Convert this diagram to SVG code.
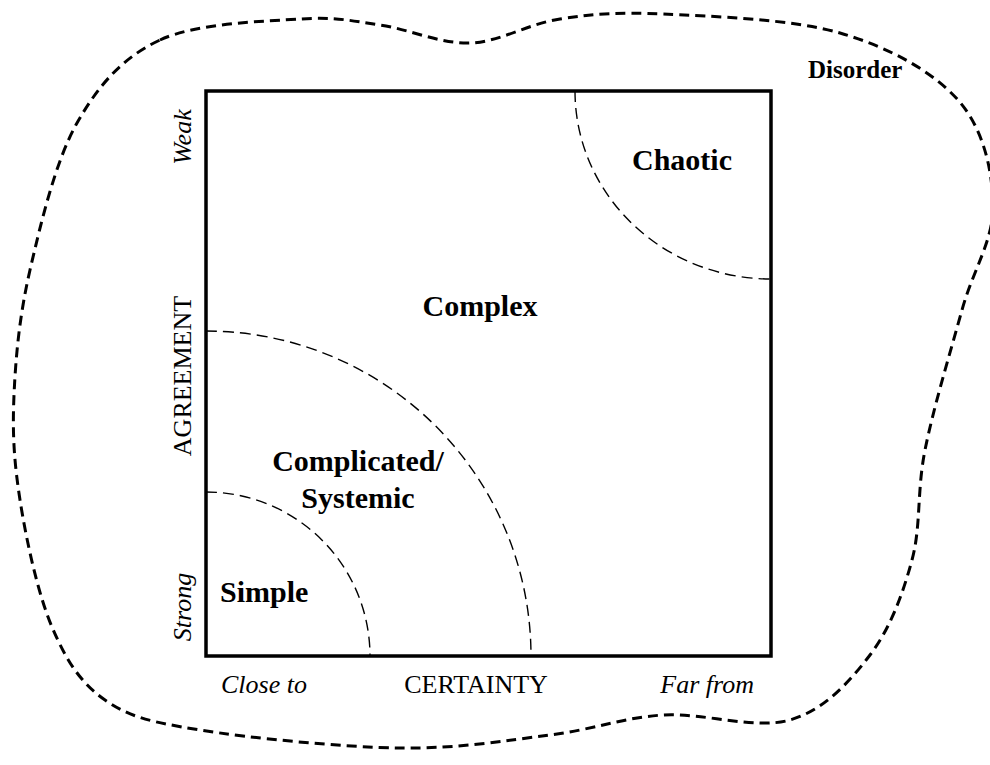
<svg xmlns="http://www.w3.org/2000/svg" width="990" height="765" viewBox="0 0 990 765">
<style>
.blob{fill:none;stroke:#000;stroke-width:3;stroke-dasharray:10 6}
.frame{fill:none;stroke:#000;stroke-width:3.5}
.arc{fill:none;stroke:#000;stroke-width:1.4;stroke-dasharray:11 6}
.lbl{font-family:"Liberation Serif","Times New Roman",serif;font-weight:bold;font-size:30px;fill:#000}
.ax{font-family:"Liberation Serif","Times New Roman",serif;font-size:26px;fill:#000}
.it{font-style:italic}
</style>
<rect width="990" height="765" fill="#fff"/>
<g id="disorder">
<path class="blob" d="M160,40 C197.2,22.7 263.3,21.5 300,19 C336.7,16.5 351.7,21 380,25 C408.3,29 440,44 470,43 C500,42 527.8,23.8 560,19 C592.2,14.2 616.3,11.7 663,14 C709.7,16.3 790.8,18.7 840,33 C889.2,47.3 932.5,71.3 958,100 C983.5,128.7 992.3,170 993,205 C993.7,240 973.3,269.2 962,310 C950.7,350.8 933.3,408.3 925,450 C916.7,491.7 921.2,525.8 912,560 C902.8,594.2 890.3,628.3 870,655 C849.7,681.7 824.5,710 790,720 C755.5,730 703,712.5 663,715 C623,717.5 593.8,729.5 550,735 C506.2,740.5 458.3,748.8 400,748 C341.7,747.2 249.2,738 200,730 C150.8,722 129.7,717.2 105,700 C80.3,682.8 66.2,660.3 52,627 C37.8,593.7 26,538.7 20,500 C14,461.3 12.3,433.3 14,395 C15.7,356.7 19.5,315.3 30,270 C40.5,224.7 55.3,161.3 77,123 C98.7,84.7 122.8,57.3 160,40 Z"/>
<text class="lbl" x="808" y="78" style="font-size:25px">Disorder</text>
</g>
<g id="frame">
<rect class="frame" x="206" y="91" width="565" height="565"/>
</g>
<g id="connectors">
<path class="arc" d="M206,492 A164,164 0 0 1 370,656"/>
<path class="arc" d="M206,331 A325,325 0 0 1 531,656"/>
<path class="arc" d="M575,91 A196,188 0 0 0 771,279"/>
</g>
<g id="chaotic"><text class="lbl" x="682" y="170" text-anchor="middle">Chaotic</text></g>
<g id="complex"><text class="lbl" x="480" y="316" text-anchor="middle">Complex</text></g>
<g id="complicated"><text class="lbl" x="358" y="471" text-anchor="middle">Complicated/</text><text class="lbl" x="358" y="508" text-anchor="middle">Systemic</text></g>
<g id="simple"><text class="lbl" x="220" y="602">Simple</text></g>
<g id="axes">
<text class="ax it" x="221" y="693">Close to</text>
<text class="ax" x="476" y="693" text-anchor="middle">CERTAINTY</text>
<text class="ax it" x="754" y="693" text-anchor="end">Far from</text>
<text class="ax it" transform="translate(191,137) rotate(-90)" text-anchor="middle">Weak</text>
<text class="ax" transform="translate(191,376) rotate(-90)" text-anchor="middle">AGREEMENT</text>
<text class="ax it" transform="translate(191,607) rotate(-90)" text-anchor="middle">Strong</text>
</g>
</svg>
